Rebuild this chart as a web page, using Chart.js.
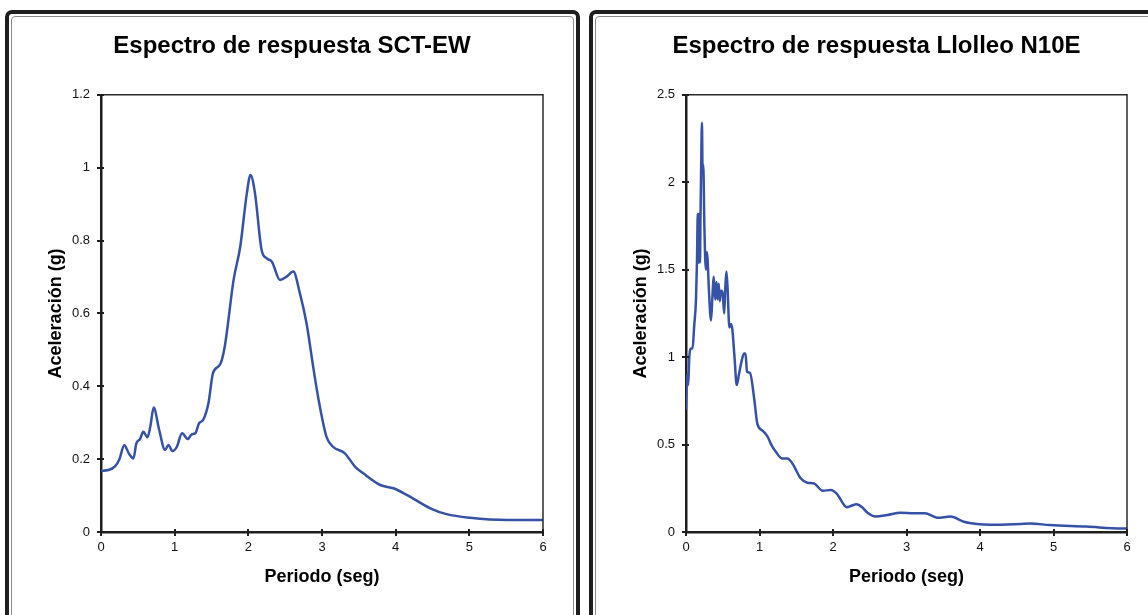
<!DOCTYPE html>
<html>
<head>
<meta charset="utf-8">
<script src="https://cdn.jsdelivr.net/npm/chart.js@4.4.1/dist/chart.umd.min.js"></script>
<style>
  html, body { margin:0; padding:0; background:#fff; width:1148px; height:615px; overflow:hidden; }
  .frame { position:absolute; top:10px; border:4px solid #1e1e1e; border-radius:7px; box-sizing:border-box; }
  .inner { position:absolute; left:2px; top:2px; right:2px; bottom:2px; border:1px solid #8a8a8a; border-radius:4px; }
  .cv { position:absolute; }
</style>
</head>
<body>
<div class="frame" style="left:5px; width:575px; height:640px;"><div class="inner"></div></div>
<div class="frame" style="left:589px; width:600px; height:640px;"><div class="inner"></div></div>
<div class="cv" style="left:41px; top:18px; width:517px; height:582px;"><canvas id="c1" width="517" height="582"></canvas></div>
<div class="cv" style="left:626px; top:18px; width:516px; height:582px;"><canvas id="c2" width="516" height="582"></canvas></div>
<script>
// ---- Data ----
const titleSCT = 'Espectro de respuesta SCT-EW';
const titleLL = 'Espectro de respuesta Llolleo N10E';
const xLabel = 'Periodo (seg)';
const yLabel = 'Aceleración (g)';

const xTicks = [0, 1, 2, 3, 4, 5, 6];
const yTicksSCT = [0, 0.2, 0.4, 0.6, 0.8, 1, 1.2];
const yTicksLL = [0, 0.5, 1, 1.5, 2, 2.5];

const periodSCT = [0, 0.1, 0.19, 0.25, 0.316, 0.38, 0.44, 0.48, 0.53, 0.574, 0.63, 0.67, 0.715, 0.79, 0.87, 0.915, 0.97, 1.03, 1.10, 1.18, 1.23, 1.28, 1.33, 1.39, 1.46, 1.52, 1.62, 1.68, 1.80, 1.89, 1.98, 2.03, 2.09, 2.18, 2.25, 2.32, 2.43, 2.52, 2.61, 2.70, 2.79, 2.88, 2.95, 3.06, 3.15, 3.31, 3.45, 3.56, 3.79, 3.97, 4.15, 4.47, 4.69, 5.01, 5.51, 6.0];
const accelSCT = [0.168, 0.17, 0.18, 0.20, 0.238, 0.215, 0.202, 0.243, 0.255, 0.275, 0.26, 0.29, 0.342, 0.28, 0.225, 0.239, 0.222, 0.234, 0.271, 0.255, 0.268, 0.271, 0.298, 0.309, 0.355, 0.436, 0.461, 0.509, 0.692, 0.783, 0.93, 0.98, 0.93, 0.774, 0.751, 0.742, 0.692, 0.701, 0.715, 0.655, 0.573, 0.454, 0.367, 0.262, 0.234, 0.216, 0.179, 0.161, 0.129, 0.12, 0.102, 0.065, 0.049, 0.039, 0.033, 0.033];

const periodLL = [0, 0.015, 0.03, 0.045, 0.07, 0.09, 0.11, 0.136, 0.15, 0.16, 0.17, 0.18, 0.19, 0.197, 0.205, 0.217, 0.226, 0.235, 0.25, 0.27, 0.285, 0.295, 0.31, 0.34, 0.36, 0.376, 0.39, 0.40, 0.415, 0.43, 0.445, 0.46, 0.475, 0.485, 0.5, 0.52, 0.535, 0.55, 0.565, 0.59, 0.61, 0.63, 0.66, 0.69, 0.72, 0.75, 0.79, 0.81, 0.83, 0.87, 0.93, 0.97, 1.04, 1.11, 1.16, 1.22, 1.31, 1.38, 1.45, 1.56, 1.65, 1.74, 1.86, 1.97, 2.05, 2.19, 2.25, 2.32, 2.40, 2.47, 2.58, 2.74, 2.92, 3.10, 3.25, 3.42, 3.60, 3.78, 3.96, 4.14, 4.55, 4.68, 4.95, 5.45, 5.93, 6.0];
const accelLL = [0.70, 0.90, 0.84, 1.00, 1.05, 1.05, 1.17, 1.33, 1.56, 1.82, 1.54, 1.82, 1.54, 1.80, 2.05, 2.34, 2.05, 2.10, 1.75, 1.50, 1.60, 1.55, 1.40, 1.21, 1.35, 1.46, 1.37, 1.33, 1.43, 1.33, 1.42, 1.32, 1.38, 1.38, 1.36, 1.25, 1.40, 1.49, 1.40, 1.17, 1.19, 1.16, 1.00, 0.84, 0.90, 0.965, 1.02, 1.02, 0.917, 0.91, 0.755, 0.62, 0.58, 0.545, 0.50, 0.46, 0.42, 0.42, 0.39, 0.307, 0.282, 0.278, 0.236, 0.24, 0.22, 0.141, 0.15, 0.158, 0.14, 0.11, 0.088, 0.097, 0.11, 0.107, 0.107, 0.082, 0.088, 0.059, 0.046, 0.042, 0.046, 0.048, 0.040, 0.031, 0.020, 0.02];

// ---- Styling helpers ----
const FONT = '"Liberation Sans", Arial, sans-serif';
const LINE_COLOR = '#3652a6';
const AXIS_COLOR = '#1e1e1e';

const frameTicks = {
  id: 'frameTicks',
  afterDraw(chart) {
    const ctx = chart.ctx, a = chart.chartArea;
    const xs = chart.scales.x, ys = chart.scales.y;
    ctx.save();
    ctx.strokeStyle = '#2a2a2a';
    ctx.lineWidth = 1.5;
    ctx.beginPath();
    ctx.moveTo(a.left, a.top); ctx.lineTo(a.right, a.top); ctx.lineTo(a.right, a.bottom);
    ctx.stroke();
    ctx.strokeStyle = AXIS_COLOR;
    ctx.lineWidth = 2;
    ctx.beginPath();
    xs.ticks.forEach(t => {
      const px = Math.round(xs.getPixelForValue(t.value));
      ctx.moveTo(px, a.bottom - 3); ctx.lineTo(px, a.bottom + 4);
    });
    ys.ticks.forEach(t => {
      const py = Math.round(ys.getPixelForValue(t.value));
      ctx.moveTo(a.left - 4, py); ctx.lineTo(a.left + 3, py);
    });
    ctx.stroke();
    ctx.restore();
  }
};

function makeChart(id, title, xs, ys, yTicks) {
  const pts = xs.map((x, i) => ({ x: x, y: ys[i] }));
  const yMax = yTicks[yTicks.length - 1];
  return new Chart(document.getElementById(id), {
    type: 'line',
    data: { datasets: [{ data: pts, borderColor: LINE_COLOR, borderWidth: 2.5, pointRadius: 0, fill: false, cubicInterpolationMode: 'monotone' }] },
    options: {
      responsive: false,
      animation: false,
      events: [],
      layout: { padding: { left: 0, top: 0, right: 15, bottom: 0 } },
      plugins: {
        legend: { display: false },
        tooltip: { enabled: false },
        title: { display: true, text: title, color: '#000', font: { family: FONT, size: 24, weight: 'bold' }, padding: { top: 14, bottom: 34 } }
      },
      scales: {
        x: {
          type: 'linear', min: xTicks[0], max: xTicks[xTicks.length - 1],
          afterBuildTicks: s => { s.ticks = xTicks.map(v => ({ value: v })); },
          afterFit: s => { s.height = 68; },
          grid: { display: false, drawTicks: false },
          border: { display: true, color: AXIS_COLOR, width: 2.5 },
          ticks: { color: '#111', font: { family: FONT, size: 13 }, padding: 8, maxRotation: 0, callback: v => String(v) },
          title: { display: true, text: xLabel, color: '#000', font: { family: FONT, size: 18, weight: 'bold' }, padding: { top: 0, bottom: 12 } }
        },
        y: {
          type: 'linear', min: yTicks[0], max: yMax,
          afterBuildTicks: s => { s.ticks = yTicks.map(v => ({ value: v })); },
          afterFit: s => { s.width = 60; },
          grid: { display: false, drawTicks: false },
          border: { display: true, color: AXIS_COLOR, width: 2.5 },
          ticks: { color: '#111', font: { family: FONT, size: 13 }, padding: 11, callback: v => String(v) },
          title: { display: true, text: yLabel, color: '#000', font: { family: FONT, size: 18, weight: 'bold' }, padding: { top: 4, bottom: 0 } }
        }
      }
    },
    plugins: [frameTicks]
  });
}

makeChart('c1', titleSCT, periodSCT, accelSCT, yTicksSCT);
makeChart('c2', titleLL, periodLL, accelLL, yTicksLL);
</script>
</body>
</html>
